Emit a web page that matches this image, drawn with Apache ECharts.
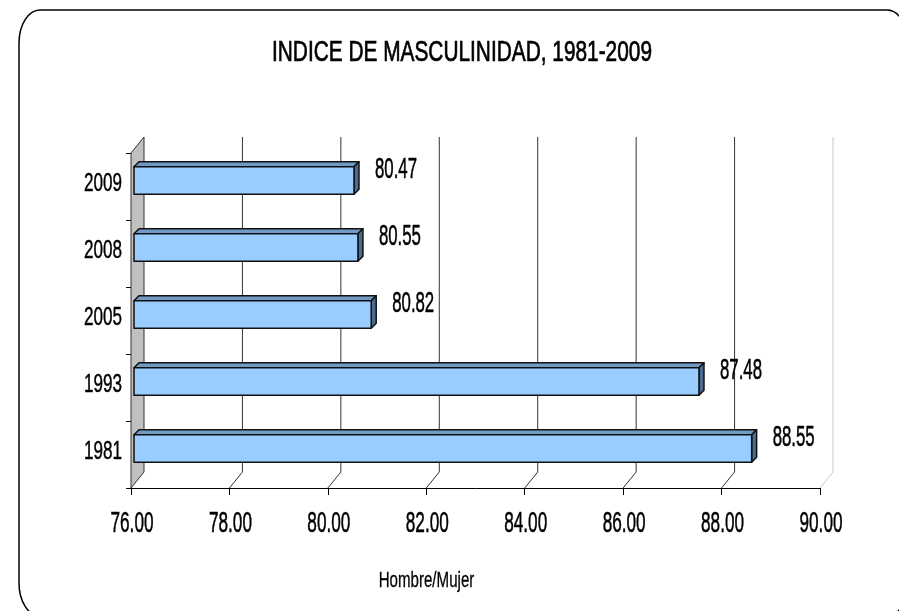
<!DOCTYPE html>
<html>
<head>
<meta charset="utf-8">
<script src="https://cdn.jsdelivr.net/npm/echarts@6/dist/echarts.min.js"></script>
<style>
  html, body { margin: 0; padding: 0; background: #fff; }
  #chart { width: 899px; height: 611px; }
</style>
</head>
<body>
<div id="chart"></div>
<script>
  // datos
  var years = ['1981', '1993', '2005', '2008', '2009'];
  var indice = [88.55, 87.48, 80.82, 80.55, 80.47];
  var xTicks = [76, 78, 80, 82, 84, 86, 88, 90];

  var FONT = '"Liberation Sans", Arial, sans-serif';
  var DX = 13, DY = -16;   // profundidad del fondo 3D

  var barData = indice.map(function (v, i) { return [v, i]; });
  var tickData = xTicks.map(function (v) { return [v, 0]; });
  var catData = years.map(function (y, i) { return [xTicks[0], i]; });

  // texto estrecho (tipo Arial Narrow): se estira en vertical
  function narrowText(str, x, y, emX, emY, align, bw) {
    return {
      type: 'text', x: x, y: y, scaleX: 1, scaleY: emY / emX,
      style: {
        text: str, font: emX + 'px ' + FONT, fill: '#000',
        stroke: '#000', lineWidth: bw || 0.3,
        align: align || 'center', verticalAlign: 'middle'
      }
    };
  }

  // marco redondeado del grafico
  function frameBox(L, T, R, B, rx, ry) {
    var k = 0.5523;
    var st = { stroke: '#000', lineWidth: 1.5, fill: null };
    var out = [
      { type: 'line', shape: { x1: L + rx, y1: T, x2: R - rx, y2: T }, style: st },
      { type: 'line', shape: { x1: R, y1: T + ry, x2: R, y2: B - ry }, style: st },
      { type: 'line', shape: { x1: L + rx, y1: B, x2: R - rx, y2: B }, style: st },
      { type: 'line', shape: { x1: L, y1: T + ry, x2: L, y2: B - ry }, style: st }
    ];
    [[L + rx, T + ry, -1, -1], [R - rx, T + ry, 1, -1], [R - rx, B - ry, 1, 1], [L + rx, B - ry, -1, 1]].forEach(function (c) {
      var cx = c[0], cy = c[1], sx = c[2], sy = c[3];
      out.push({
        type: 'bezierCurve',
        shape: {
          x1: cx + sx * rx, y1: cy, x2: cx, y2: cy + sy * ry,
          cpx1: cx + sx * rx, cpy1: cy + sy * ry * k,
          cpx2: cx + sx * rx * k, cpy2: cy + sy * ry
        },
        style: st
      });
    });
    return out;
  }

  // paredes, lineas de fondo y etiquetas del eje X
  function renderFrame(params, api) {
    var cs = params.coordSys;
    var v = api.value(0);
    var x = api.coord([v, 0])[0];
    var top = cs.y, bottom = cs.y + cs.height;
    var kids = [];
    if (v === xTicks[0]) {
      kids.push({
        type: 'polygon',
        shape: { points: [[x, top], [x + DX, top + DY], [x + DX, bottom + DY], [x, bottom]] },
        style: { fill: '#c0c0c0', stroke: '#333', lineWidth: 1 }
      });
    } else {
      var col = v === xTicks[xTicks.length - 1] ? '#c8c8c8' : '#333';
      kids.push({ type: 'line', shape: { x1: x + DX, y1: top + DY, x2: x + DX, y2: bottom + DY }, style: { stroke: col, lineWidth: 1 } });
      kids.push({ type: 'line', shape: { x1: x, y1: bottom, x2: x + DX, y2: bottom + DY }, style: { stroke: col, lineWidth: 1 } });
    }
    kids.push(narrowText(v.toFixed(2), x + 1, bottom + 35.5, 17.2, 30.3, 'center'));
    return { type: 'group', children: kids };
  }

  // etiquetas de categoria
  function renderCat(params, api) {
    var cs = params.coordSys;
    var p = api.coord([api.value(0), api.value(1)]);
    return narrowText(years[params.dataIndex], cs.x - 9, p[1] - 3, 17.1, 25.6, 'right');
  }

  // barras 3D
  function renderBar(params, api) {
    var val = api.value(0), cat = api.value(1);
    var p0 = api.coord([xTicks[0], cat]);
    var p1 = api.coord([val, cat]);
    var h = api.size([0, 1])[1] * 0.41;
    var d = 5;
    var x0 = p0[0] + 3, x1 = p1[0] + 3;
    var yc = p0[1] - 6;
    var y0 = yc - h / 2, y1 = yc + h / 2;
    var ln = { stroke: '#111', lineWidth: 1.5, lineJoin: 'round' };
    return {
      type: 'group',
      children: [
        { type: 'polygon', shape: { points: [[x0, y0], [x0 + d, y0 - d], [x1 + d, y0 - d], [x1, y0]] },
          style: Object.assign({ fill: '#7099c4' }, ln) },
        { type: 'polygon', shape: { points: [[x1, y0], [x1 + d, y0 - d], [x1 + d, y1 - d], [x1, y1]] },
          style: Object.assign({ fill: '#4b6b8f' }, ln) },
        { type: 'rect', shape: { x: x0, y: y0, width: x1 - x0, height: h },
          style: Object.assign({ fill: '#99ccff' }, ln) },
        narrowText(val.toFixed(2), x1 + 21, yc - 11, 16.8, 29.5, 'left')
      ]
    };
  }

  var chart = echarts.init(document.getElementById('chart'));
  chart.setOption({
    backgroundColor: '#fff',
    animation: false,
    graphic: frameBox(19, 10, 908, 616, 21, 33).concat([
      narrowText('INDICE DE MASCULINIDAD, 1981-2009', 462, 53, 20.85, 28.8, 'center', 0.5),
      narrowText('Hombre/Mujer', 426.5, 581, 15.1, 22.3, 'center', 0.2)
    ]),
    grid: { left: 131, right: 79, top: 153, bottom: 123 },
    xAxis: {
      type: 'value',
      min: 76,
      max: 90,
      interval: 2,
      splitLine: { show: false },
      axisLine: { show: true, lineStyle: { color: '#000', width: 1 } },
      axisTick: { show: true, length: 7, lineStyle: { color: '#000' } },
      axisLabel: { show: false }
    },
    yAxis: {
      type: 'category',
      data: years,
      axisLine: { show: true, lineStyle: { color: '#000', width: 1 } },
      axisTick: { show: true, length: 5, lineStyle: { color: '#000' } },
      axisLabel: { show: false },
      splitLine: { show: false }
    },
    series: [
      {
        type: 'custom',
        name: 'fondo',
        renderItem: renderFrame,
        data: tickData,
        encode: { x: 0, y: 1 },
        clip: false,
        z: 1,
        silent: true
      },
      {
        type: 'custom',
        name: 'anios',
        renderItem: renderCat,
        data: catData,
        encode: { x: 0, y: 1 },
        clip: false,
        z: 1,
        silent: true
      },
      {
        type: 'custom',
        name: 'Indice',
        renderItem: renderBar,
        data: barData,
        encode: { x: 0, y: 1 },
        z: 3
      }
    ]
  });
</script>
</body>
</html>
